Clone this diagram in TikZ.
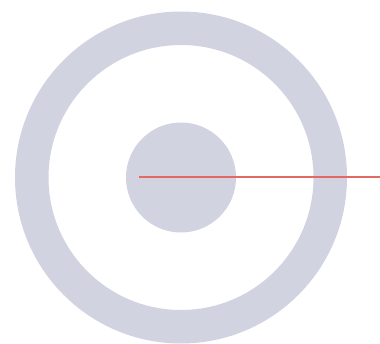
\documentclass[tikz,border=0pt]{standalone}
\definecolor{ringgray}{RGB}{209,211,225}
\definecolor{linered}{RGB}{228,105,100}
\begin{document}
\begin{tikzpicture}[x=1pt,y=-1pt,
  ringstyle/.style={fill=ringgray,even odd rule},
  diskstyle/.style={fill=ringgray},
  redline/.style={draw=linered,line width=1.2pt}]
\useasboundingbox (0,0) rectangle (380,343);
\begin{scope}
\clip (0,0) rectangle (380,343);
\fill[ringstyle] (181,177.5) circle[radius=166] (181,177.5) circle[radius=132.5];
\end{scope}
\node[circle,diskstyle,minimum size=110pt,inner sep=0pt] (disk) at (181,177.5) {};
\coordinate (start) at (139,177);
\coordinate (end) at (380,177);
\draw[redline] (start) -- (end);
\end{tikzpicture}
\end{document}
